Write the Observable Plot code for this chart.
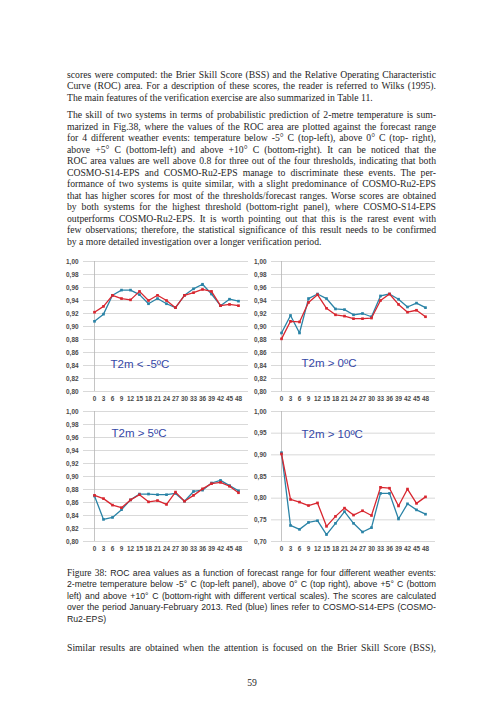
<!DOCTYPE html>
<html>
<head>
<meta charset="utf-8">
<script src="https://cdn.jsdelivr.net/npm/d3@7"></script>
<script src="https://cdn.jsdelivr.net/npm/@observablehq/plot@0.6"></script>
<style>
  html, body { margin: 0; padding: 0; background: #fff; }
  body { width: 504px; height: 712px; position: relative; overflow: hidden; }
  .ln { position: absolute; left: 67px; width: 369px; height: 12px; line-height: 12px;
        text-align: justify; text-align-last: justify; color: #262626; }
  .ln.last { text-align-last: left; }
  .serif { font-family: "Liberation Serif", serif; font-size: 9.7px; }
  .sans { font-family: "Liberation Sans", sans-serif; font-size: 8.7px; }
  .panel { position: absolute; }
  #pnum { position: absolute; left: 0; width: 504px; text-align: center; top: 677px;
          font-family: "Liberation Serif", serif; font-size: 9.7px; color: #262626; }
</style>
</head>
<body>
<div id="page"></div>
<div id="pnum">59</div>
<script>
// ---------- data ----------
const hours = [0, 3, 6, 9, 12, 15, 18, 21, 24, 27, 30, 33, 36, 39, 42, 45, 48];

// T2m < -5ºC (top-left)
const tlRed  = [0.922, 0.931, 0.948, 0.943, 0.941, 0.954, 0.940, 0.948, 0.940, 0.929, 0.948, 0.952, 0.957, 0.954, 0.932, 0.934, 0.932];
const tlBlue = [0.908, 0.919, 0.948, 0.956, 0.956, 0.949, 0.935, 0.943, 0.935, 0.929, 0.948, 0.958, 0.965, 0.950, 0.932, 0.942, 0.939];

// T2m > 0ºC (top-right)
const trRed  = [0.881, 0.908, 0.907, 0.937, 0.949, 0.928, 0.918, 0.916, 0.912, 0.912, 0.913, 0.940, 0.950, 0.934, 0.922, 0.925, 0.915];
const trBlue = [0.890, 0.917, 0.890, 0.943, 0.950, 0.943, 0.927, 0.926, 0.918, 0.920, 0.915, 0.947, 0.950, 0.942, 0.930, 0.936, 0.929];

// T2m > 5ºC (bottom-left)
const blRed  = [0.871, 0.866, 0.856, 0.852, 0.864, 0.872, 0.861, 0.863, 0.857, 0.876, 0.862, 0.871, 0.881, 0.889, 0.891, 0.885, 0.875];
const blBlue = [0.870, 0.834, 0.837, 0.849, 0.864, 0.873, 0.873, 0.872, 0.872, 0.874, 0.862, 0.877, 0.879, 0.890, 0.894, 0.886, 0.878];

// T2m > 10ºC (bottom-right)
const brRed  = [0.902, 0.797, 0.791, 0.783, 0.789, 0.735, 0.758, 0.777, 0.761, 0.771, 0.760, 0.825, 0.823, 0.782, 0.821, 0.788, 0.803];
const brBlue = [0.905, 0.737, 0.728, 0.744, 0.748, 0.716, 0.742, 0.769, 0.742, 0.722, 0.732, 0.811, 0.811, 0.752, 0.787, 0.773, 0.763];

const ticksFine = [0.80, 0.82, 0.84, 0.86, 0.88, 0.90, 0.92, 0.94, 0.96, 0.98, 1.00];
const ticksCoarse = [0.70, 0.75, 0.80, 0.85, 0.90, 0.95, 1.00];

const panelLabels = ["T2m < -5ºC", "T2m > 0ºC", "T2m > 5ºC", "T2m > 10ºC"];

// ---------- text ----------
const para1 = [
  "scores were computed: the Brier Skill Score (BSS) and the Relative Operating Characteristic",
  "Curve (ROC) area. For a description of these scores, the reader is referred to Wilks (1995).",
  "The main features of the verification exercise are also summarized in Table 11."
];
const para2 = [
  "The skill of two systems in terms of probabilistic prediction of 2-metre temperature is sum-",
  "marized in Fig.38, where the values of the ROC area are plotted against the forecast range",
  "for 4 different weather events: temperature below -5° C (top-left), above 0° C (top- right),",
  "above +5° C (bottom-left) and above +10° C (bottom-right). It can be noticed that the",
  "ROC area values are well above 0.8 for three out of the four thresholds, indicating that both",
  "COSMO-S14-EPS and COSMO-Ru2-EPS manage to discriminate these events. The per-",
  "formance of two systems is quite similar, with a slight predominance of COSMO-Ru2-EPS",
  "that has higher scores for most of the thresholds/forecast ranges. Worse scores are obtained",
  "by both systems for the highest threshold (bottom-right panel), where COSMO-S14-EPS",
  "outperforms COSMO-Ru2-EPS. It is worth pointing out that this is the rarest event with",
  "few observations; therefore, the statistical significance of this result needs to be confirmed",
  "by a more detailed investigation over a longer verification period."
];
const caption = [
  "ROC area values as a function of forecast range for four different weather events:",
  "2-metre temperature below -5° C (top-left panel), above 0° C (top right), above +5° C (bottom",
  "left) and above +10° C (bottom-right with different vertical scales). The scores are calculated",
  "over the period January-February 2013. Red (blue) lines refer to COSMO-S14-EPS (COSMO-",
  "Ru2-EPS)"
];
const para3 = ["Similar results are obtained when the attention is focused on the Brier Skill Score (BSS),"];

const page = document.getElementById("page");
function addLines(lines, startY, step, cls, lastIsShort, prefix) {
  lines.forEach((t, i) => {
    const d = document.createElement("div");
    d.className = "ln " + cls + (lastIsShort && i === lines.length - 1 ? " last" : "");
    d.style.top = (startY + i * step - 6) + "px";
    if (i === 0 && prefix) {
      const s = document.createElement("span");
      s.style.fontFamily = '"Liberation Serif", serif';
      s.style.fontSize = "9.4px";
      s.textContent = prefix;
      d.appendChild(s);
      d.appendChild(document.createTextNode(" " + t));
    } else {
      d.textContent = t;
    }
    page.appendChild(d);
  });
}
addLines(para1, 75, 11.4, "serif", true);
addLines(para2, 115.2, 11.5, "serif", true);
addLines(caption, 572.7, 11.45, "sans", true, "Figure 38:");
addLines(para3, 648.3, 11.4, "serif", false);

// ---------- charts ----------
const RED = "#d8262f", BLUE = "#2a83a6", LABEL = "#3447a6";
const fmt = d => d.toFixed(2).replace(".", ",");

function panel({left, top, width, marginLeft, marginRight, red, blue, ticks, domain, label, dx, dy}) {
  const rows = [];
  hours.forEach((h, i) => rows.push({h, v: blue[i], s: "blue"}));
  hours.forEach((h, i) => rows.push({h, v: red[i], s: "red"}));
  const chart = Plot.plot({
    width, height: 154,
    marginLeft, marginRight, marginTop: 10, marginBottom: 14,
    style: {fontFamily: '"Liberation Sans", sans-serif', fontSize: "6.4px", fontWeight: "bold", color: "#4a4a4a", background: "transparent", overflow: "visible"},
    x: {type: "point", domain: hours, padding: 0.5, label: null},
    y: {domain, label: null},
    color: {domain: ["blue", "red"], range: [BLUE, RED]},
    marks: [
      Plot.gridY(ticks, {stroke: "#cfcfcf", strokeOpacity: 1, strokeWidth: 0.8}),
      Plot.axisY(ticks, {tickSize: 0, tickPadding: 5, tickFormat: fmt, label: null}),
      Plot.ruleX([0], {frameAnchor: "left", stroke: "#b5b5b5", strokeWidth: 0.8}),
      Plot.axisX({tickSize: 0, tickPadding: 5, label: null}),
      Plot.line(rows.filter(r => r.s === "blue"), {x: "h", y: "v", stroke: BLUE, strokeWidth: 1.3}),
      Plot.dot(rows.filter(r => r.s === "blue"), {x: "h", y: "v", symbol: "square", r: 1.5, fill: BLUE, stroke: "none"}),
      Plot.line(rows.filter(r => r.s === "red"), {x: "h", y: "v", stroke: RED, strokeWidth: 1.3}),
      Plot.dot(rows.filter(r => r.s === "red"), {x: "h", y: "v", symbol: "square", r: 1.5, fill: RED, stroke: "none"}),
      Plot.text([label], {frameAnchor: "top-left", dx, dy, textAnchor: "start", lineAnchor: "middle",
        fill: LABEL, fontSize: 11.5, fontWeight: "normal", fontFamily: '"Liberation Sans", sans-serif'})
    ]
  });
  chart.classList.add("panel");
  chart.style.left = left + "px";
  chart.style.top = top + "px";
  chart.style.position = "absolute";
  document.body.appendChild(chart);
}

panel({left: 25, top: 251, width: 230, marginLeft: 58, marginRight: 7, red: tlRed, blue: tlBlue, ticks: ticksFine, domain: [0.8, 1.0], label: panelLabels[0], dx: 27, dy: 103});
panel({left: 250, top: 251, width: 200, marginLeft: 21, marginRight: 15, red: trRed, blue: trBlue, ticks: ticksFine, domain: [0.8, 1.0], label: panelLabels[1], dx: 30, dy: 102});
panel({left: 25, top: 401, width: 230, marginLeft: 58, marginRight: 7, red: blRed, blue: blBlue, ticks: ticksFine, domain: [0.8, 1.0], label: panelLabels[2], dx: 28, dy: 22});
panel({left: 250, top: 401, width: 200, marginLeft: 21, marginRight: 15, red: brRed, blue: brBlue, ticks: ticksCoarse, domain: [0.7, 1.0], label: panelLabels[3], dx: 30, dy: 23});
</script>
</body>
</html>
